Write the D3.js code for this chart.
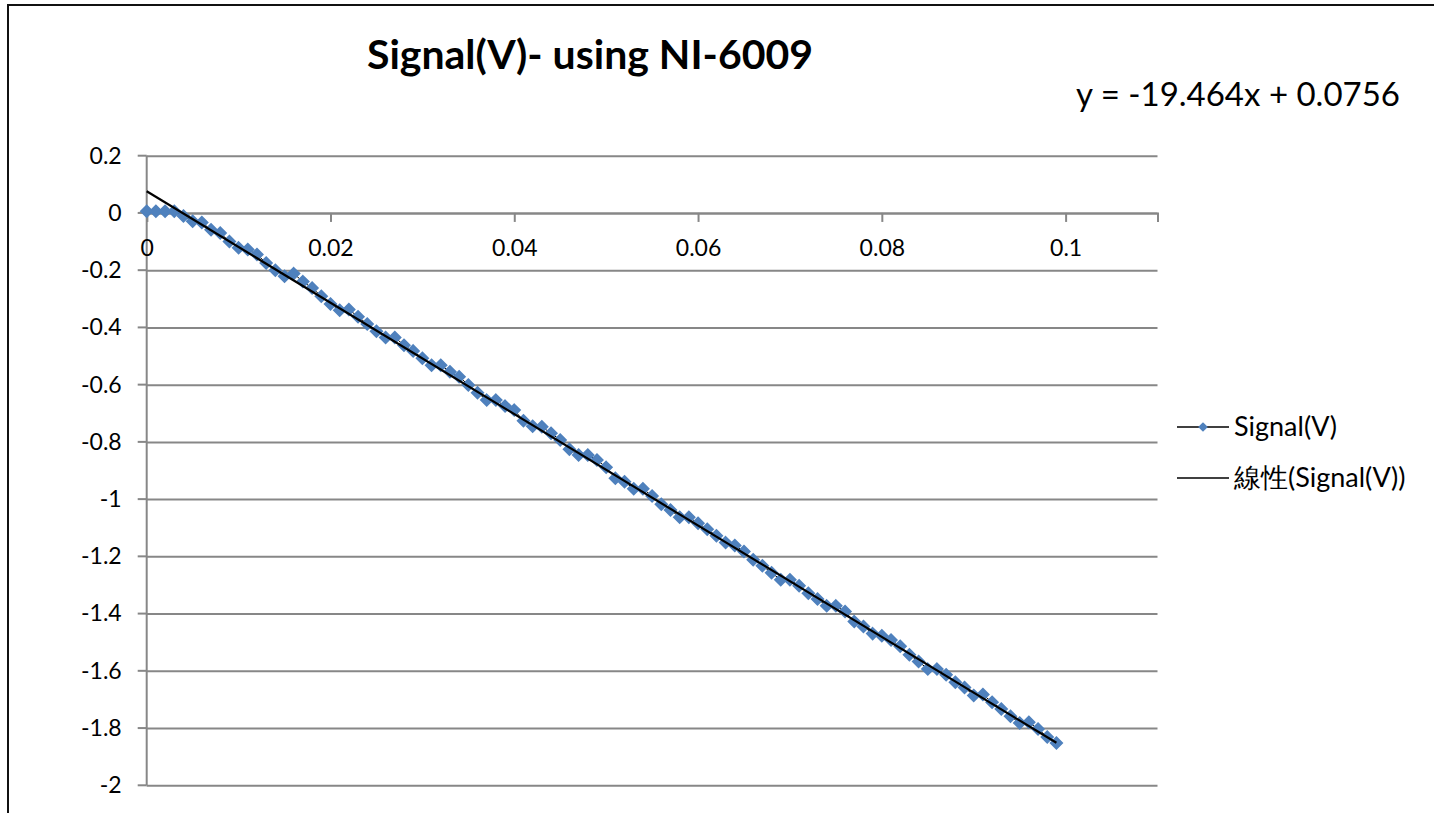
<!DOCTYPE html>
<html>
<head>
<meta charset="utf-8">
<script src="https://cdn.jsdelivr.net/npm/d3@7"></script>
<style>
  html, body { margin: 0; background: #fff; overflow: hidden; }
  svg { display: block; }
  text { font-family: Lato, "Noto Sans", sans-serif; fill: #000; }
</style>
</head>
<body>
<svg id="chart"></svg>
<script>
// data
var xTicks = [0, 0.02, 0.04, 0.06, 0.08, 0.1];
var xTickLabels = ["0", "0.02", "0.04", "0.06", "0.08", "0.1"];
var yTicks = [0.2, 0, -0.2, -0.4, -0.6, -0.8, -1, -1.2, -1.4, -1.6, -1.8, -2];
var yTickLabels = ["0.2", "0", "-0.2", "-0.4", "-0.6", "-0.8", "-1", "-1.2", "-1.4", "-1.6", "-1.8", "-2"];

var time = [0, 0.001, 0.002, 0.003, 0.004, 0.005, 0.006, 0.007, 0.008, 0.009,
  0.010, 0.011, 0.012, 0.013, 0.014, 0.015, 0.016, 0.017, 0.018, 0.019,
  0.020, 0.021, 0.022, 0.023, 0.024, 0.025, 0.026, 0.027, 0.028, 0.029,
  0.030, 0.031, 0.032, 0.033, 0.034, 0.035, 0.036, 0.037, 0.038, 0.039,
  0.040, 0.041, 0.042, 0.043, 0.044, 0.045, 0.046, 0.047, 0.048, 0.049,
  0.050, 0.051, 0.052, 0.053, 0.054, 0.055, 0.056, 0.057, 0.058, 0.059,
  0.060, 0.061, 0.062, 0.063, 0.064, 0.065, 0.066, 0.067, 0.068, 0.069,
  0.070, 0.071, 0.072, 0.073, 0.074, 0.075, 0.076, 0.077, 0.078, 0.079,
  0.080, 0.081, 0.082, 0.083, 0.084, 0.085, 0.086, 0.087, 0.088, 0.089,
  0.090, 0.091, 0.092, 0.093, 0.094, 0.095, 0.096, 0.097, 0.098, 0.099];

var signal = [0.006, 0.006, 0.006, 0.006, -0.011, -0.029, -0.033, -0.059, -0.070, -0.100,
  -0.122, -0.128, -0.145, -0.175, -0.200, -0.221, -0.212, -0.240, -0.262, -0.291,
  -0.318, -0.340, -0.337, -0.363, -0.388, -0.413, -0.435, -0.435, -0.462, -0.482,
  -0.508, -0.532, -0.532, -0.555, -0.572, -0.601, -0.628, -0.654, -0.654, -0.675,
  -0.689, -0.726, -0.745, -0.747, -0.770, -0.793, -0.826, -0.846, -0.846, -0.863,
  -0.889, -0.927, -0.939, -0.964, -0.964, -0.989, -1.018, -1.038, -1.063, -1.063,
  -1.084, -1.105, -1.128, -1.152, -1.162, -1.183, -1.212, -1.233, -1.257, -1.282,
  -1.282, -1.303, -1.329, -1.349, -1.373, -1.373, -1.393, -1.428, -1.445, -1.470,
  -1.477, -1.492, -1.514, -1.544, -1.567, -1.594, -1.594, -1.614, -1.640, -1.658,
  -1.686, -1.683, -1.710, -1.733, -1.759, -1.782, -1.780, -1.803, -1.831, -1.852];

var slope = -19.464, intercept = 0.0756;
var title = "Signal(V)- using NI-6009";
var equation = "y = -19.464x + 0.0756";
var legendNames = ["Signal(V)", "線性(Signal(V))"];

var svgWidth = 1434, svgHeight = 813;
var svg = d3.select("#chart").attr("width", svgWidth).attr("height", svgHeight);

// chart area border: only top and left edges are inside the picture
svg.append("path")
  .attr("d", "M8," + svgHeight + "V5H" + svgWidth)
  .attr("fill", "none").attr("stroke", "#111").attr("stroke-width", 2);

var plot = {left: 146.7, right: 1157.5, top: 155.7, bottom: 785.3};

var xScale = d3.scaleLinear().domain([0, 0.11]).range([plot.left, plot.right]);
var yScale = d3.scaleLinear().domain([-2, 0.2]).range([plot.bottom, plot.top]);

var gridColor = "#878787";
var tickFont = 23;

// horizontal gridlines + y axis
var yAxis = d3.axisLeft(yScale)
  .tickValues(yTicks)
  .tickSize(plot.right - plot.left)
  .tickFormat((d, i) => yTickLabels[i]);

var yGroup = svg.append("g").attr("transform", "translate(" + plot.right + ",0)").call(yAxis);
yGroup.select(".domain").remove();
yGroup.selectAll(".tick line").attr("stroke", gridColor).attr("stroke-width", 2);
yGroup.selectAll(".tick text")
  .attr("x", -(plot.right - plot.left) - 25)
  .attr("font-size", tickFont).attr("font-family", "Lato");

// little tick marks left of y axis
svg.append("g").selectAll("line")
  .data(yTicks).enter().append("line")
  .attr("x1", plot.left - 9).attr("x2", plot.left)
  .attr("y1", d => yScale(d)).attr("y2", d => yScale(d))
  .attr("stroke", gridColor).attr("stroke-width", 2);

// vertical axis line
svg.append("line")
  .attr("x1", plot.left).attr("x2", plot.left)
  .attr("y1", plot.top).attr("y2", plot.bottom)
  .attr("stroke", gridColor).attr("stroke-width", 2);

// x axis crossing at y = 0
var xAxis = d3.axisBottom(xScale)
  .tickValues(xTicks)
  .tickSize(9)
  .tickFormat((d, i) => xTickLabels[i]);

var xGroup = svg.append("g").attr("transform", "translate(0," + yScale(0) + ")").call(xAxis);
xGroup.select(".domain").attr("stroke", gridColor).attr("stroke-width", 2);
xGroup.selectAll(".tick line").attr("stroke", gridColor).attr("stroke-width", 2);
xGroup.selectAll(".tick text")
  .attr("y", 27).attr("dy", "0.71em")
  .attr("font-size", tickFont).attr("font-family", "Lato");

var pts = time.map((t, i) => [t, signal[i]]);

// series line (thin, black) under markers
var line = d3.line().x(d => xScale(d[0])).y(d => yScale(d[1]));
svg.append("path").datum(pts)
  .attr("d", line)
  .attr("fill", "none").attr("stroke", "#000").attr("stroke-width", 1);

// diamond markers
var diamond = d3.symbol().type(d3.symbolDiamond2).size(90);
svg.append("g").selectAll("path")
  .data(pts).enter().append("path")
  .attr("d", diamond)
  .attr("transform", d => "translate(" + xScale(d[0]) + "," + yScale(d[1]) + ")")
  .attr("fill", "#4F81BD").attr("stroke", "#4F81BD").attr("stroke-width", 1.5);

// linear trendline
var t0 = time[0], t1 = time[time.length - 1];
svg.append("path")
  .datum([[t0, slope * t0 + intercept], [t1, slope * t1 + intercept]])
  .attr("d", line)
  .attr("fill", "none").attr("stroke", "#000").attr("stroke-width", 2.2);

// title and equation
svg.append("text")
  .attr("x", 590).attr("y", 69)
  .attr("text-anchor", "middle")
  .attr("font-size", 41).attr("font-weight", "bold")
  .text(title);

svg.append("text")
  .attr("x", 1238).attr("y", 106)
  .attr("text-anchor", "middle")
  .attr("font-size", 33)
  .text(equation);

// legend
var legendY = [427, 478];
var leg = svg.append("g");
legendNames.forEach(function(name, i) {
  leg.append("line")
    .attr("x1", 1177).attr("x2", 1229)
    .attr("y1", legendY[i]).attr("y2", legendY[i])
    .attr("stroke", "#000").attr("stroke-width", 1.5);
  if (i === 0) {
    leg.append("path")
      .attr("d", d3.symbol().type(d3.symbolDiamond2).size(60))
      .attr("transform", "translate(1203," + legendY[i] + ")")
      .attr("fill", "#4F81BD");
  }
  leg.append("text")
    .attr("x", 1234).attr("y", legendY[i])
    .attr("dy", "0.35em")
    .attr("font-size", 27)
    .attr("font-family", i === 1 ? "Lato, 'Noto Sans CJK TC'" : "Lato")
    .attr("fill", i === 1 ? "#222" : "#000")
    .text(name);
});
</script>
</body>
</html>
